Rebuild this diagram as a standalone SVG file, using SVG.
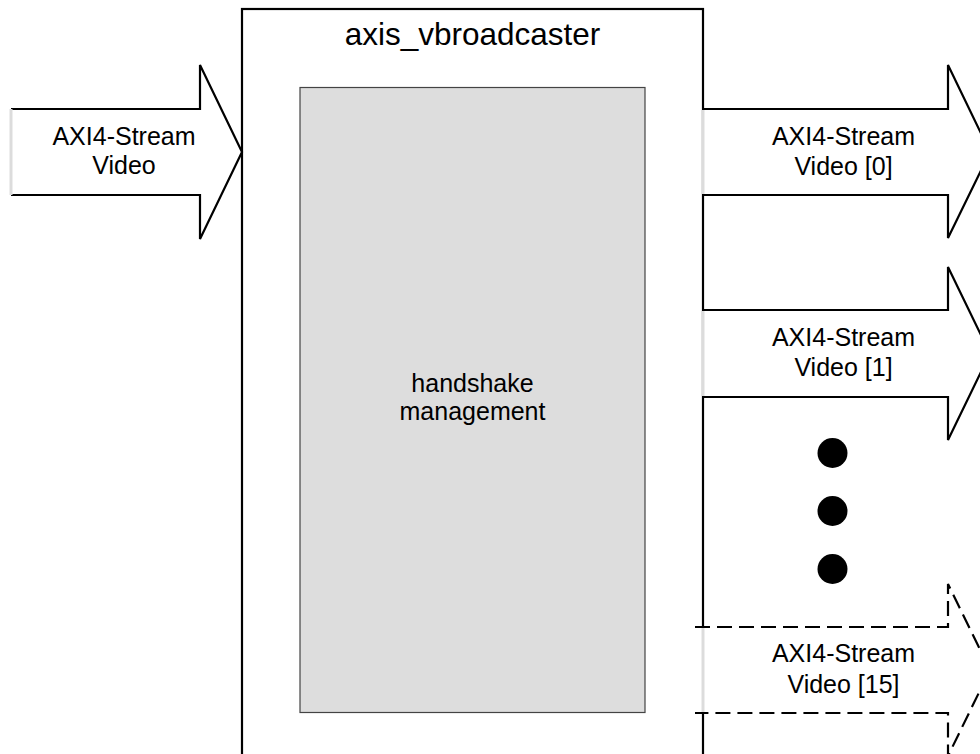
<svg xmlns="http://www.w3.org/2000/svg" width="980" height="754" viewBox="0 0 980 754">
<style>
.lbl{font-family:"Liberation Sans",Arial,sans-serif;font-size:25px;fill:#000;text-anchor:middle}
.ttl{font-family:"Liberation Sans",Arial,sans-serif;font-size:31.5px;fill:#000;text-anchor:middle}
.arr{fill:#fff;stroke:#000;stroke-width:2.2;stroke-linejoin:miter}
.dash{stroke-dasharray:15 7}
.edge{stroke:#dcdcdc;stroke-width:3;fill:none}
.dot{fill:#000}
</style>
<rect width="980" height="754" fill="#fff"/>
<g id="axis_vbroadcaster">
<rect x="242" y="9" width="461" height="770" fill="#fff" stroke="#000" stroke-width="2.2"/>
<text class="ttl" x="472.5" y="45">axis_vbroadcaster</text>
</g>
<g id="handshake_management">
<rect x="300" y="87.5" width="345" height="625" fill="#dddddd" stroke="#444" stroke-width="1.2"/>
<text class="lbl" x="472.5" y="392">handshake</text>
<text class="lbl" x="472.5" y="420">management</text>
</g>
<g id="connectors">
<g id="in_stream">
<path class="arr" d="M11,109 H200 V65 L242,152 L200,239 V195 H11"/>
<line class="edge" x1="11" y1="109" x2="11" y2="195"/>
<text class="lbl" x="124" y="145">AXI4-Stream</text>
<text class="lbl" x="124" y="174">Video</text>
</g>
<g id="out_stream_0">
<path class="arr" d="M703,109 H948 V65 L990,152 L948,238 V195 H703"/>
<line class="edge" x1="703" y1="110" x2="703" y2="194"/>
<text class="lbl" x="843.5" y="145">AXI4-Stream</text>
<text class="lbl" x="843.5" y="175">Video [0]</text>
</g>
<g id="out_stream_1">
<path class="arr" d="M703,310 H948 V267 L990,353.5 L948,440 V397 H703"/>
<line class="edge" x1="703" y1="311" x2="703" y2="396"/>
<text class="lbl" x="843.5" y="346">AXI4-Stream</text>
<text class="lbl" x="843.5" y="376">Video [1]</text>
</g>
<g id="out_stream_15">
<path class="arr dash" d="M695,627 H948 V584 L990,670 L948,756 V713 H695"/>
<line class="edge" x1="703" y1="628" x2="703" y2="712"/>
<text class="lbl" x="843.5" y="662">AXI4-Stream</text>
<text class="lbl" x="843.5" y="693">Video [15]</text>
</g>
</g>
<g id="ellipsis">
<circle class="dot" cx="832.5" cy="453" r="15"/>
<circle class="dot" cx="832.5" cy="511" r="15"/>
<circle class="dot" cx="832.5" cy="569" r="15"/>
</g>
</svg>
